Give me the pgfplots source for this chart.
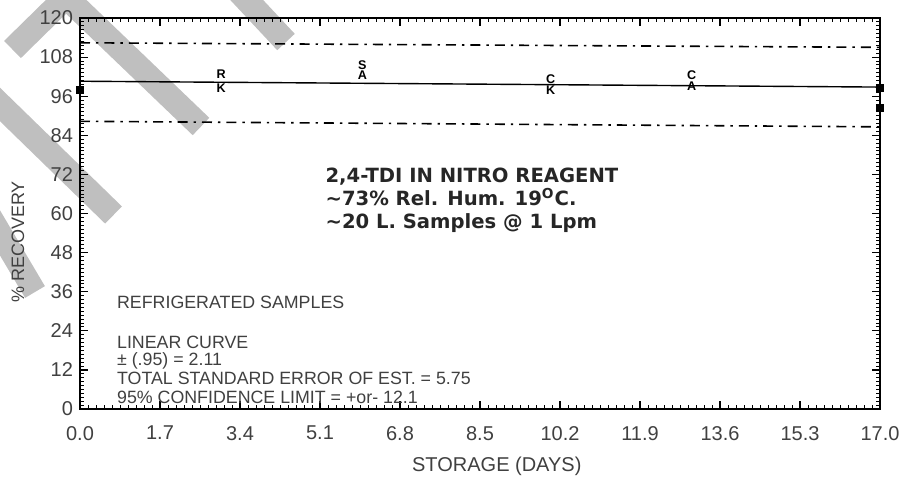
\documentclass[border=0pt]{standalone}
\usepackage{pgfplots}
\pgfplotsset{compat=1.18}
\usepackage{fontspec}
\setmainfont{Liberation Sans}
\newfontfamily\titlefont{DejaVu Sans}

% fitted regression line and its 95% confidence band
\pgfplotstableread{
x    fit    upper   lower
0    100.6  112.4   88.3
17   98.8   111.0   86.6
}\fitdata

% recovered amounts, two determinations per storage day
\pgfplotstableread{
x    y      lab
3    102.8  R
6    105.6  S
10   101.3  C
13   102.3  C
3    98.4   K
6    102.5  A
10   97.8   K
13   99.0   A
}\samples

\pgfplotstableread{
x    y
0    97.9
17   98.5
17   92.4
}\edgepoints

\begin{document}
\begin{tikzpicture}[x=1pt,y=1pt]
\useasboundingbox (-40,-35) rectangle (415,204.5);
% grey diagonal bands across the upper left of the sheet
\begin{scope}
  \clip (-40,-35) rectangle (415,204.5);
  \draw[line width=12pt, gray!50, line join=miter] (-33.75,179.75) -- (-7,206) -- (60.5,141.25);
  \draw[line width=12pt, gray!50] (74,214.5) -- (103,183.5);
  \draw[line width=12pt, gray!50] (-50,162) -- (16.75,97);
  \draw[line width=11.5pt, gray!50] (-45,96.5) -- (-22.5,58.5);
\end{scope}
\begin{axis}[
  at={(0,0)}, anchor=south west,
  scale only axis, width=400pt, height=195.5pt,
  xmin=0, xmax=17, ymin=0, ymax=120,
  xtick={0,1.7,3.4,5.1,6.8,8.5,10.2,11.9,13.6,15.3,17},
  ytick={0,12,...,120},
  minor xtick={0,0.17,...,17.05},
  minor ytick={0,1.2,...,120.1},
  tick align=inside, tick pos=both,
  major tick length=4pt, minor tick length=2pt,
  axis line style={line width=0.8pt},
  major tick style={black, line width=0.6pt},
  minor tick style={black, line width=0.45pt},
  /pgf/number format/assume math mode=true,
  tick label style={font=\fontsize{10}{12}\selectfont, text=black!75},
  xticklabel style={yshift=-5pt, /pgf/number format/fixed, /pgf/number format/fixed zerofill, /pgf/number format/precision=1},
  yticklabel style={/pgf/number format/fixed, /pgf/number format/precision=0},
  xlabel={STORAGE (DAYS)},
  ylabel={\% RECOVERY},
  xlabel style={at={(axis description cs:0.521,-0.146)}, anchor=center, font=\fontsize{10}{12}\selectfont, text=black!75},
  ylabel style={at={(axis description cs:-0.0775,0.427)}, anchor=center, font=\fontsize{9}{11}\selectfont, text=black!75},
  clip=false,
]
\addplot[black, line width=0.7pt] table[x=x, y=fit] {\fitdata};
\addplot[black, line width=0.8pt, dash pattern=on 5pt off 3pt on 1.2pt off 3pt] table[x=x, y=upper] {\fitdata};
\addplot[black, line width=0.8pt, dash pattern=on 5pt off 3pt on 1.2pt off 3pt] table[x=x, y=lower] {\fitdata};
\addplot[only marks, mark=none, nodes near coords, point meta=explicit symbolic,
  every node near coord/.style={anchor=center, inner sep=0pt, text height=4.3pt, text depth=0pt,
    font=\fontsize{6.3}{6.5}\selectfont\bfseries}]
  table[x=x, y=y, meta=lab] {\samples};
\addplot[only marks, mark=square*, mark size=1.6pt, black] table[x=x, y=y] {\edgepoints};

% plot annotations
\node[anchor=base west, inner sep=0pt, font=\titlefont\fontsize{9.8}{11}\selectfont\bfseries, text=black!85] at (axis cs:5.21,69.4) {2,4-TDI IN NITRO REAGENT};
\node[anchor=base west, inner sep=0pt, font=\titlefont\fontsize{9.8}{11}\selectfont\bfseries, text=black!85] at (axis cs:5.21,62.4) {∼73\% Rel. Hum. 19\textsuperscript{O}C.};
\node[anchor=base west, inner sep=0pt, font=\titlefont\fontsize{9.8}{11}\selectfont\bfseries, text=black!85] at (axis cs:5.21,55.3) {∼20 L. Samples @ 1 Lpm};

\node[anchor=base west, inner sep=0pt, font=\fontsize{8.9}{10}\selectfont, text=black!75] at (axis cs:0.78,30.7) {REFRIGERATED SAMPLES};
\node[anchor=base west, inner sep=0pt, font=\fontsize{8.9}{10}\selectfont, text=black!75] at (axis cs:0.78,18.7) {LINEAR CURVE};
\node[anchor=base west, inner sep=0pt, font=\fontsize{8.9}{10}\selectfont, text=black!75] at (axis cs:0.78,13.5) {± (.95) = 2.11};
\node[anchor=base west, inner sep=0pt, font=\fontsize{8.9}{10}\selectfont, text=black!75] at (axis cs:0.78,7.4) {TOTAL STANDARD ERROR OF EST. = 5.75};
\node[anchor=base west, inner sep=0pt, font=\fontsize{8.9}{10}\selectfont, text=black!75] at (axis cs:0.78,1.6) {95\% CONFIDENCE LIMIT = +or- 12.1};
\end{axis}
\end{tikzpicture}
\end{document}
